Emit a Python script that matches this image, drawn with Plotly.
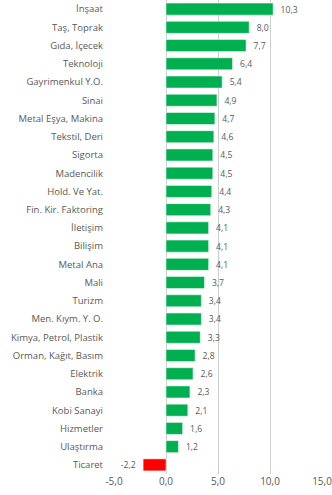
import plotly.graph_objects as go

# Sector returns (%), top to bottom as shown
sectors = [
    "İnşaat", "Taş, Toprak", "Gıda, İçecek", "Teknoloji", "Gayrimenkul Y.O.",
    "Sinai", "Metal Eşya, Makina", "Tekstil, Deri", "Sigorta", "Madencilik",
    "Hold. Ve Yat.", "Fin. Kir. Faktoring", "İletişim", "Bilişim", "Metal Ana",
    "Mali", "Turizm", "Men. Kıym. Y. O.", "Kimya, Petrol, Plastik", "Orman, Kağıt, Basım",
    "Elektrik", "Banka", "Kobi Sanayi", "Hizmetler", "Ulaştırma", "Ticaret",
]
values = [
    10.3, 8.0, 7.7, 6.4, 5.4,
    4.9, 4.7, 4.6, 4.5, 4.5,
    4.4, 4.3, 4.1, 4.1, 4.1,
    3.7, 3.4, 3.4, 3.3, 2.8,
    2.6, 2.3, 2.1, 1.6, 1.2, -2.2,
]
tick_vals = [-5, 0, 5, 10, 15]
tick_text = ["-5,0", "0,0", "5,0", "10,0", "15,0"]

GREEN = "#00B050"
RED = "#FF0000"
TEXT = "#595959"

labels = ["  " + f"{v:.1f}".replace(".", ",") + "  " for v in values]
colors = [GREEN if v >= 0 else RED for v in values]

fig = go.Figure(go.Bar(
    x=values, y=sectors, orientation="h",
    marker=dict(color=colors, line=dict(color="rgba(255,255,255,0.5)", width=1)),
    text=labels, textposition="outside", cliponaxis=False,
    textfont=dict(color=TEXT, size=10),
))

fig.update_layout(
    width=332, height=495,
    paper_bgcolor="white", plot_bgcolor="white",
    font=dict(family="Open Sans, sans-serif", color=TEXT, size=10),
    margin=dict(l=114, r=10, t=0, b=21, autoexpand=False),
    bargap=0.34,
    showlegend=False,
)
fig.update_xaxes(
    range=[-5, 15], tickvals=tick_vals, ticktext=tick_text,
    showgrid=True, gridcolor="#CFCFCF", gridwidth=1,
    zeroline=False, showline=False, fixedrange=True, automargin=False,
    ticklabeloverflow="allow",
    tickfont=dict(size=10, color=TEXT),
)
fig.update_yaxes(
    autorange="reversed", showgrid=False, zeroline=False, showline=False,
    automargin=False, ticklabelstandoff=10, tickfont=dict(size=9.5, color=TEXT),
)

# page body has a default 8px margin; drop it so the figure sits at 0,0
fig.write_html(
    "out.html",
    config={"displayModeBar": False},
    post_script="document.body.style.margin='0';",
)
